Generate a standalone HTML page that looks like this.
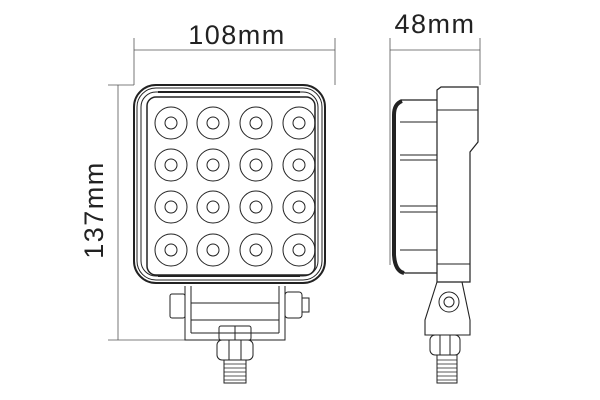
<!DOCTYPE html>
<html><head><meta charset="utf-8"><style>
html,body{margin:0;padding:0;background:#fff;width:600px;height:400px;overflow:hidden}
</style></head><body>
<svg width="600" height="400" viewBox="0 0 600 400" xmlns="http://www.w3.org/2000/svg" fill="none" stroke="#222" stroke-width="1">
<g stroke="#555" stroke-width="0.8">
<line x1="134" y1="38" x2="134" y2="85"/><line x1="335" y1="38" x2="335" y2="85"/>
<line x1="134" y1="50" x2="335" y2="50"/>
<line x1="108" y1="85" x2="134" y2="85"/><line x1="108" y1="340" x2="185" y2="340"/>
<line x1="118" y1="85" x2="118" y2="340"/>
<line x1="390" y1="38" x2="390" y2="265"/><line x1="480" y1="38" x2="480" y2="85"/>
<line x1="390" y1="50" x2="480" y2="50"/>
</g>
<g fill="#222" stroke="none" font-family="Liberation Sans, sans-serif" font-size="27" letter-spacing="1.5">
<text x="237" y="44" text-anchor="middle">108mm</text>
<text x="435" y="33" text-anchor="middle">48mm</text>
<text transform="translate(103,210) rotate(-90)" text-anchor="middle">137mm</text>
</g>
<rect x="134" y="85" width="191" height="198" rx="22" stroke-width="2"/>
<rect x="137" y="88" width="185" height="192" rx="19"/>
<rect x="141" y="92" width="177" height="184" rx="15"/>
<rect x="147" y="97" width="168" height="178" rx="9" stroke-width="1.5"/>
<line x1="158" y1="92" x2="300" y2="92" stroke-width="2"/>
<line x1="158" y1="276" x2="300" y2="276" stroke-width="2"/>
<g>
<circle cx="171" cy="123" r="16"/><circle cx="171" cy="123" r="6"/>
<circle cx="213" cy="123" r="16"/><circle cx="213" cy="123" r="6"/>
<circle cx="256" cy="123" r="16"/><circle cx="256" cy="123" r="6"/>
<circle cx="299" cy="123" r="16"/><circle cx="299" cy="123" r="6"/>
<circle cx="171" cy="165" r="16"/><circle cx="171" cy="165" r="6"/>
<circle cx="213" cy="165" r="16"/><circle cx="213" cy="165" r="6"/>
<circle cx="256" cy="165" r="16"/><circle cx="256" cy="165" r="6"/>
<circle cx="299" cy="165" r="16"/><circle cx="299" cy="165" r="6"/>
<circle cx="171" cy="207" r="16"/><circle cx="171" cy="207" r="6"/>
<circle cx="213" cy="207" r="16"/><circle cx="213" cy="207" r="6"/>
<circle cx="256" cy="207" r="16"/><circle cx="256" cy="207" r="6"/>
<circle cx="299" cy="207" r="16"/><circle cx="299" cy="207" r="6"/>
<circle cx="171" cy="250" r="16"/><circle cx="171" cy="250" r="6"/>
<circle cx="213" cy="250" r="16"/><circle cx="213" cy="250" r="6"/>
<circle cx="256" cy="250" r="16"/><circle cx="256" cy="250" r="6"/>
<circle cx="299" cy="250" r="16"/><circle cx="299" cy="250" r="6"/>
</g>
<rect x="170" y="294" width="15" height="24" rx="2"/>
<path d="M185 286 V340 H285 V286"/>
<line x1="191" y1="286" x2="191" y2="333"/><line x1="279" y1="286" x2="279" y2="333"/>
<line x1="191" y1="333" x2="279" y2="333"/>
<line x1="191" y1="303" x2="279" y2="303"/><line x1="191" y1="320" x2="279" y2="320"/>
<rect x="285" y="292" width="17" height="26" rx="3"/>
<rect x="302" y="298" width="7" height="14"/>
<rect x="219" y="326" width="32" height="14" rx="2"/>
<line x1="235" y1="326" x2="235" y2="340"/>
<rect x="217" y="340" width="36" height="20" rx="5"/>
<line x1="229" y1="340" x2="229" y2="360"/><line x1="241" y1="340" x2="241" y2="360"/>
<rect x="224" y="360" width="22" height="23"/>
<path d="M224 364h22M224 368h22M224 372h22M224 376h22M224 380h22" stroke-width="0.8"/>
<path d="M437 90 L441 87 H478 V142 L470 152 V282 H437 Z" stroke-width="1.2"/>
<line x1="437" y1="110" x2="478" y2="110"/>
<line x1="437" y1="264" x2="470" y2="264"/>
<path d="M437 100 H402 Q395 102 395 112 V250 Q395 270 405 273 H437" stroke-width="1.2"/>
<path d="M402 101 Q394 104 394 115 V255 Q395 271 404 273" stroke-width="4"/>
<line x1="400" y1="122" x2="437" y2="122"/>
<line x1="400" y1="155" x2="437" y2="155"/>
<line x1="400" y1="160" x2="437" y2="160"/>
<line x1="400" y1="206" x2="437" y2="206"/>
<line x1="400" y1="212" x2="437" y2="212"/>
<line x1="400" y1="250" x2="437" y2="250"/>
<path d="M437 282 L425 320 V335 H470 V320 L462 282" stroke-width="1.1"/>
<circle cx="449" cy="302" r="10"/><circle cx="449" cy="302" r="5"/>
<rect x="430" y="335" width="30" height="20" rx="5"/>
<line x1="440" y1="335" x2="440" y2="355"/><line x1="450" y1="335" x2="450" y2="355"/>
<rect x="437" y="355" width="20" height="28"/>
<path d="M437 360h20M437 364h20M437 368h20M437 372h20M437 376h20M437 380h20" stroke-width="0.8"/>
</svg>
</body></html>
